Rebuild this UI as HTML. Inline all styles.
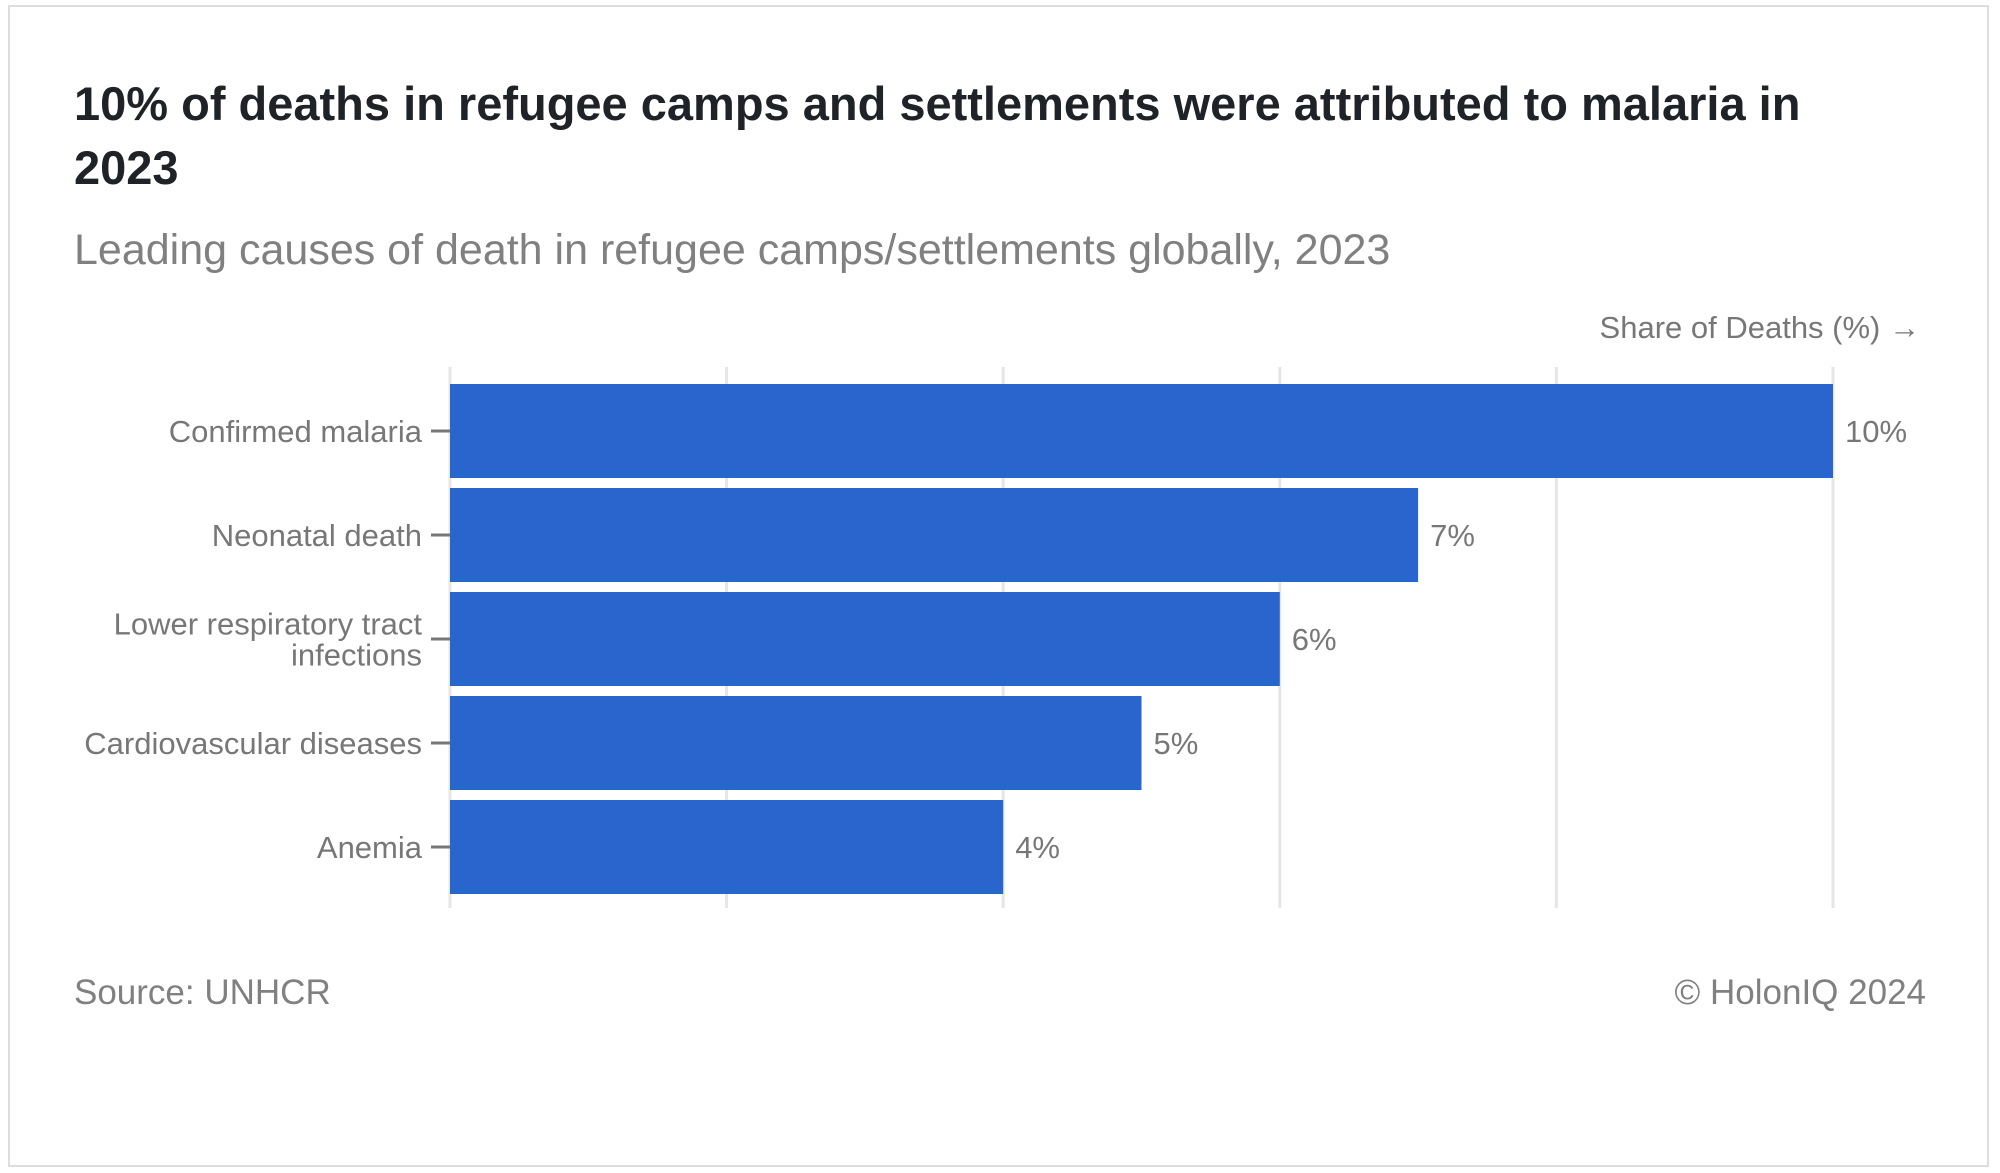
<!DOCTYPE html>
<html><head><meta charset="utf-8"><style>
html,body{margin:0;padding:0;background:#fff;}
body{width:2000px;height:1173px;position:relative;overflow:hidden;font-family:"Liberation Sans",sans-serif;}
#frame{position:absolute;left:8px;top:5px;width:1981px;height:1162px;border:2px solid #ddd;box-sizing:border-box;}
.t{position:absolute;white-space:nowrap;}
</style></head><body>
<div id="frame"></div>
<div class="t" style="left:74px;top:72px;font-size:47px;font-weight:bold;color:#1f2328;line-height:64px;">10% of deaths in refugee camps and settlements were attributed to malaria in<br>2023</div>
<div class="t" style="left:74px;top:226px;font-size:43px;color:#808080;">Leading causes of death in refugee camps/settlements globally, 2023</div>
<svg id="chart" width="2000" height="1173" style="position:absolute;left:0;top:0" xmlns="http://www.w3.org/2000/svg"></svg>
<div class="t" style="left:74px;top:973px;font-size:35px;color:#808080;">Source: UNHCR</div>
<div class="t" style="right:74px;top:973px;font-size:35px;color:#808080;">© HolonIQ 2024</div>
<script>
const categories=["Confirmed malaria","Neonatal death","Lower respiratory tract|infections","Cardiovascular diseases","Anemia"];
const values=[10,7,6,5,4];
const valueLabels=["10%","7%","6%","5%","4%"];
const ticks=[0,2,4,6,8,10];
const svg=document.getElementById('chart');
const NS='http://www.w3.org/2000/svg';
const x0=450,x1=1833,xmax=10;
const x=v=>x0+(x1-x0)*v/xmax;
const top0=384,pitch=104,bh=94;
const y=i=>top0+i*pitch;
function mk(t,a){const e=document.createElementNS(NS,t);for(const k in a)e.setAttribute(k,a[k]);svg.appendChild(e);return e;}
ticks.forEach(tk=>{
 const g=mk('line',{x1:x(tk),x2:x(tk),y1:367,y2:908,stroke:'#e6e6e6','stroke-width':3});
 
 
});
const at=mk('text',{x:1920,y:338,'text-anchor':'end','font-size':31,fill:'#777','font-family':'Liberation Sans, sans-serif'});
at.textContent='Share of Deaths (%) →';


categories.forEach((c,i)=>{
 const cy=y(i)+bh/2;
 const r=mk('rect',{x:x0,y:y(i),width:x(values[i])-x0,height:bh,fill:'#2965cc'});
 
 
 const tl=mk('line',{x1:431,x2:450,y1:cy,y2:cy,stroke:'#777','stroke-width':3});
 
 
 const lines=c.split('|');
 lines.forEach((ln,j)=>{
  const t=mk('text',{x:422,y:cy+11+(j-(lines.length-1)/2)*31,'text-anchor':'end','font-size':31,fill:'#777','font-family':'Liberation Sans, sans-serif'});
  t.textContent=ln;
  
  
 });
 const v=mk('text',{x:x(values[i])+12,y:cy+11,'font-size':31,fill:'#777','font-family':'Liberation Sans, sans-serif'});
 v.textContent=valueLabels[i];
 
 
});
</script>
</body></html>
